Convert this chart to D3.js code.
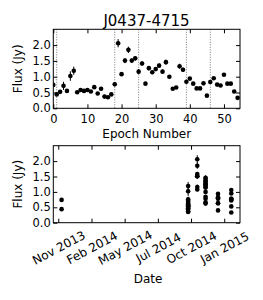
<!DOCTYPE html>
<html>
<head>
<meta charset="utf-8">
<script src="https://cdn.jsdelivr.net/npm/d3@7"></script>
<style>
  body { margin: 0; background: #fff; }
  svg text { font-family: "DejaVu Sans", sans-serif; fill: #000; }
</style>
</head>
<body>
<div id="chart"></div>
<script>
// Epoch numbers and flux (Jy).
const epochs = [0,1,2,3,4,5,6,7,8,9,10,11,12,13,14,15,16,17,18,19,20,21,22,23,24,25,26,27,
  28,29,30,31,32,33,34,35,36,37,38,39,40,41,42,43,44,45,46,47,48,49,50,51,52,53,54];
const flux = [0.74,0.44,0.52,0.71,0.55,1.02,1.19,0.51,0.58,0.55,0.58,0.53,0.67,0.47,0.62,0.37,
  0.35,0.44,0.76,2.06,1.08,1.51,1.85,1.51,1.58,1.16,1.42,0.78,1.27,1.14,1.24,1.35,1.16,1.46,
  1.00,0.62,0.66,1.33,1.22,0.84,0.94,0.78,0.63,0.63,0.79,0.40,0.83,0.95,0.75,0.72,1.06,0.78,
  0.78,0.53,0.33];
const fluxErr = [0.05,0.04,0.04,0.13,0.04,0.15,0.13,0.04,0.05,0.04,0.05,0.04,0.05,0.04,0.05,
  0.03,0.03,0.04,0.07,0.13,0.06,0.08,0.10,0.07,0.07,0.08,0.07,0.04,0.07,0.06,0.06,0.07,0.07,
  0.08,0.05,0.03,0.03,0.08,0.07,0.05,0.05,0.04,0.04,0.04,0.04,0.03,0.05,0.05,0.04,0.04,0.06,
  0.04,0.04,0.04,0.04];

// Observing dates and how many epochs fall on each.
const obsDates = ["2013-12-06", "2014-10-07", "2014-10-29", "2014-11-18", "2014-12-18", "2015-01-19"];
const obsCounts = [2, 17, 7, 14, 7, 8];

// Epochs marked by the dotted lines (last epoch of each date).
const breakEpochs = [1, 18, 25, 39, 46];

// Tick values.
const epochTicks = [0, 10, 20, 30, 40, 50];
const fluxTicks = [0.0, 0.5, 1.0, 1.5, 2.0];
const dateTicks = ["2013-11-28", "2014-02-16", "2014-05-07", "2014-07-26", "2014-10-14", "2015-01-02"];
const dateRange = ["2013-11-16", "2015-02-09"];

let parseDate = d3.timeParse("%Y-%m-%d");

// Build per-epoch dates from the date groups.
let epochDates = [];
obsDates.forEach((d, i) => {
  for (let k = 0; k < obsCounts[i]; k++) epochDates.push(parseDate(d));
});

let points = epochs.map((e, i) => ({epoch: e, date: epochDates[i], flux: flux[i], err: fluxErr[i]}));

let width = 263, height = 300;
let left = 53.3, right = 240;
let tickFont = "11.5px";

let svg = d3.select("#chart")
  .append("svg")
    .attr("width", width)
    .attr("height", height);

svg.append("rect").attr("width", width).attr("height", height).attr("fill", "#fff");

// Draws the four-sided tick frame for a panel.
function frame(g, x, y, top, bottom) {
  g.append("g")
    .attr("transform", "translate(0," + top + ")")
    .call(d3.axisTop(x).tickValues(x.ticksUsed).tickSize(-4).tickSizeOuter(0).tickFormat(""));
  g.append("g")
    .attr("transform", "translate(" + right + ",0)")
    .call(d3.axisRight(y).tickValues(fluxTicks).tickSize(-4).tickSizeOuter(0).tickFormat(""));
  g.append("g")
    .attr("transform", "translate(" + left + ",0)")
    .call(d3.axisLeft(y).tickValues(fluxTicks).tickSize(-4).tickSizeOuter(0).tickPadding(2.5)
      .tickFormat(d3.format(".1f")))
    .selectAll("text").style("font-size", tickFont);
  g.selectAll(".domain").remove();
  g.selectAll(".tick line").attr("stroke", "#000");
  g.append("rect")
    .attr("x", left).attr("y", top)
    .attr("width", right - left).attr("height", bottom - top)
    .attr("fill", "none").attr("stroke", "#000").attr("stroke-width", 1);
}

// Draws error bars and markers.
function marks(g, x, y, key) {
  g.selectAll(".err")
    .data(points)
    .enter()
    .append("line")
      .attr("x1", d => x(d[key])).attr("x2", d => x(d[key]))
      .attr("y1", d => y(d.flux - d.err)).attr("y2", d => y(d.flux + d.err))
      .attr("stroke", "#000").attr("stroke-width", 1);
  g.selectAll(".pt")
    .data(points)
    .enter()
    .append("circle")
      .attr("cx", d => x(d[key]))
      .attr("cy", d => y(d.flux))
      .attr("r", 2.3)
      .attr("fill", "#000");
}

// ---- Top panel: flux against epoch number ----
let top1 = 29.3, bottom1 = 108.3;
let x1 = d3.scaleLinear().domain([0, 54.7]).range([left, right]);
x1.ticksUsed = epochTicks;
let y1 = d3.scaleLinear().domain([0, 2.5]).range([bottom1, top1]);

let g1 = svg.append("g");
svg.append("clipPath").attr("id", "clip1")
  .append("rect").attr("x", left).attr("y", top1).attr("width", right - left).attr("height", bottom1 - top1);

let plot1 = g1.append("g").attr("clip-path", "url(#clip1)");
plot1.selectAll(".brk")
  .data(breakEpochs)
  .enter()
  .append("line")
    .attr("x1", d => x1(d)).attr("x2", d => x1(d))
    .attr("y1", top1).attr("y2", bottom1)
    .attr("stroke", "#777").attr("stroke-width", 1).attr("stroke-dasharray", "1,1.5");
marks(plot1, x1, y1, "epoch");

g1.append("g")
  .attr("transform", "translate(0," + bottom1 + ")")
  .call(d3.axisBottom(x1).tickValues(epochTicks).tickSize(-4).tickSizeOuter(0).tickPadding(6.5))
  .selectAll("text").style("font-size", tickFont);
frame(g1, x1, y1, top1, bottom1);

svg.append("text")
  .attr("x", 146.5).attr("y", 26)
  .attr("text-anchor", "middle")
  .style("font-size", "15px")
  .text("J0437-4715");

svg.append("text")
  .attr("x", 146.7).attr("y", 137.5)
  .attr("text-anchor", "middle")
  .style("font-size", "12px")
  .text("Epoch Number");

svg.append("text")
  .attr("transform", "translate(22," + (top1 + bottom1) / 2 + ") rotate(-90)")
  .attr("text-anchor", "middle")
  .style("font-size", "12px")
  .text("Flux (Jy)");

// ---- Bottom panel: flux against date ----
let top2 = 145.7, bottom2 = 222.7;
let x2 = d3.scaleTime().domain(dateRange.map(parseDate)).range([left, right]);
x2.ticksUsed = dateTicks.map(parseDate);
let y2 = d3.scaleLinear().domain([0, 2.5]).range([bottom2, top2]);

let g2 = svg.append("g");
marks(g2, x2, y2, "date");

let xAxis2 = g2.append("g")
  .attr("transform", "translate(0," + bottom2 + ")")
  .call(d3.axisBottom(x2).tickValues(x2.ticksUsed).tickSize(-4).tickSizeOuter(0)
    .tickFormat(d3.timeFormat("%b %Y")));
xAxis2.selectAll("text")
  .style("font-size", "12px")
  .attr("text-anchor", "middle")
  .attr("y", 25)
  .attr("dy", "0.35em")
  .attr("transform", "rotate(-28 0 25)");
frame(g2, x2, y2, top2, bottom2);

svg.append("text")
  .attr("x", 148).attr("y", 283)
  .attr("text-anchor", "middle")
  .style("font-size", "12px")
  .text("Date");

svg.append("text")
  .attr("transform", "translate(22," + (top2 + bottom2) / 2 + ") rotate(-90)")
  .attr("text-anchor", "middle")
  .style("font-size", "12px")
  .text("Flux (Jy)");
</script>
</body>
</html>
